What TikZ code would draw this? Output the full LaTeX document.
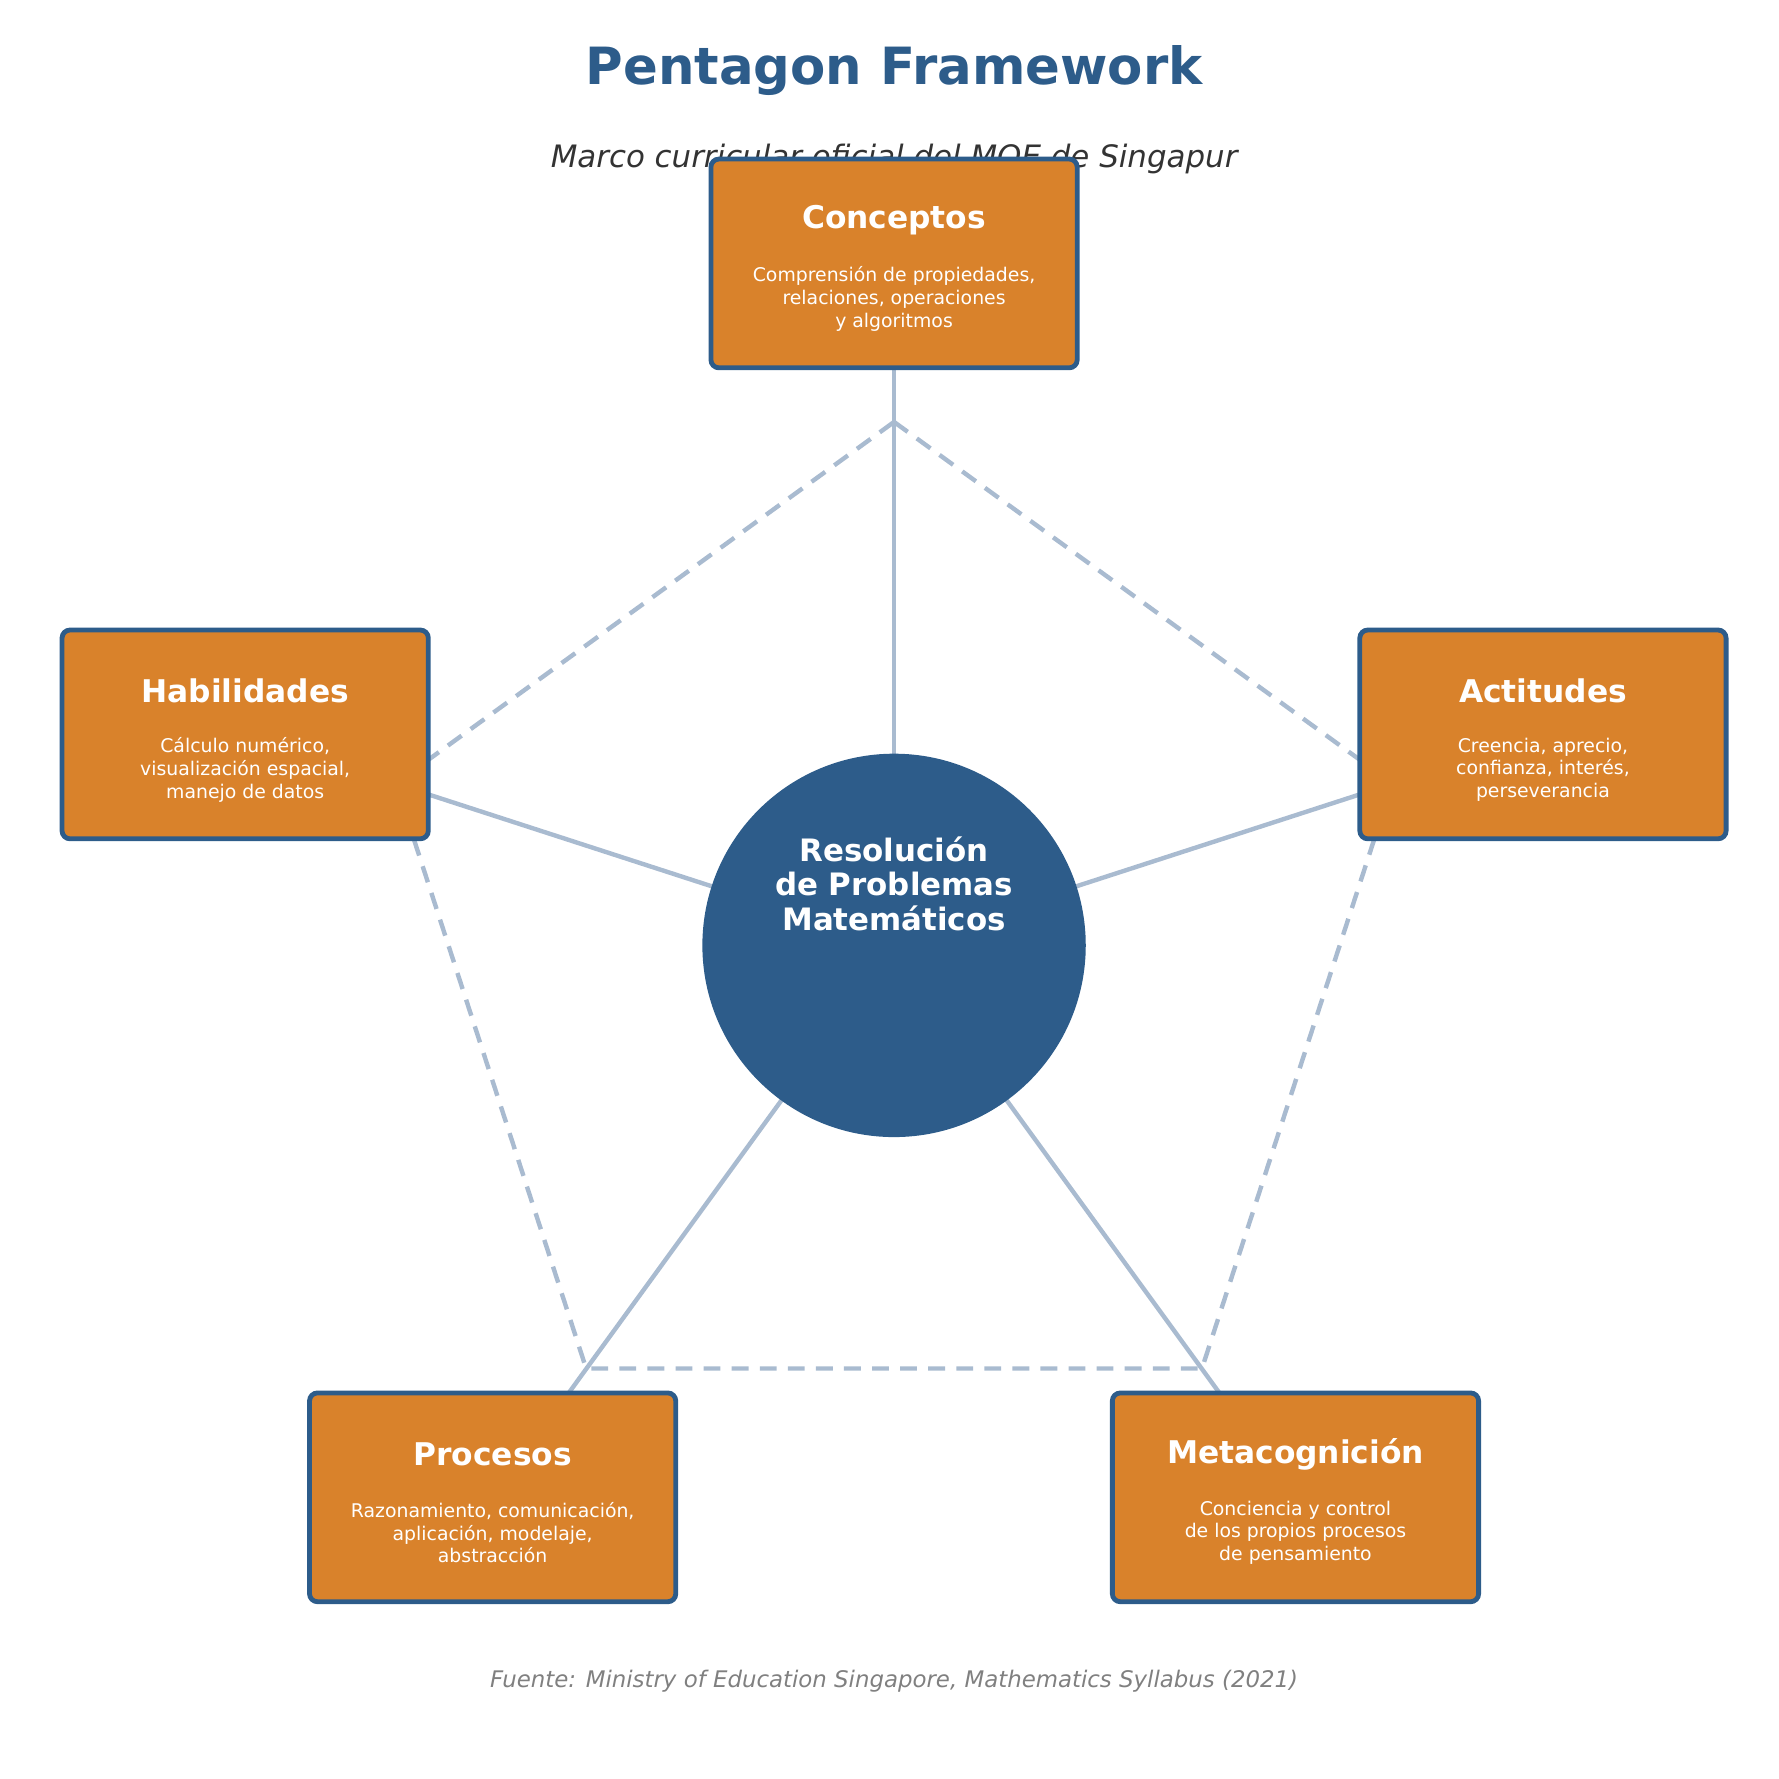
\documentclass[tikz,border=0pt]{standalone}
\usepackage{fontspec}
\setmainfont{DejaVu Sans}
\usetikzlibrary{backgrounds}
\definecolor{penblue}{HTML}{2D5C8A}
\definecolor{penorange}{HTML}{D9822B}
\definecolor{penline}{HTML}{A9BBD0}
\tikzset{
  pillar/.style={draw=penblue, line width=1.2pt, fill=penorange, rounded corners=2pt,
    minimum width=3.21cm, minimum height=1.83cm},
  ptitle/.style={text=white, font=\fontsize{7.8}{9}\selectfont\bfseries},
  pbody/.style={text=white, align=center, font=\fontsize{4.7}{5.7}\selectfont},
  spoke/.style={draw=penline, line width=1.1pt},
  rim/.style={draw=penline, line width=1.1pt, dash pattern=on 4.2pt off 2.8pt}
}
\begin{document}
\begin{tikzpicture}[x=0.01cm,y=-0.01cm]
\useasboundingbox (0,0) rectangle (1560,1560);
\node[text=penblue, font=\fontsize{12.8}{15}\selectfont\bfseries] (title) at (784,62) {Pentagon Framework};
\node[text=black!80, font=\fontsize{7.7}{9}\selectfont\itshape] (subtitle) at (784,139) {Marco curricular oficial del MOE de Singapur};

% pentagon vertices and spoke ends
\coordinate (p1) at (784,370);
\coordinate (p2) at (1221,687);
\coordinate (p3) at (1054,1200);
\coordinate (p4) at (514,1200);
\coordinate (p5) at (347,687);
\coordinate (hub) at (784,829);
\coordinate (s1) at (784,250);
\coordinate (s2) at (1330,652);
\coordinate (s3) at (1130,1305);
\coordinate (s4) at (438,1305);
\coordinate (s5) at (238,652);

\draw[rim] (p1) -- (p2) -- (p3) -- (p4) -- (p5) -- cycle;
\foreach \s in {s1,s2,s3,s4,s5} \draw[spoke] (hub) -- (\s);

\node[circle, fill=penblue, minimum size=3.36cm] (core) at (hub) {};
\node[text=white, align=center, font=\fontsize{7.7}{8.5}\selectfont\bfseries] (coretext) at (784,775)
  {Resolución\\de Problemas\\Matemáticos};

\node[pillar] (conceptos) at (784,231) {};
\node[pillar] (actitudes) at (1353,644) {};
\node[pillar] (metacog) at (1136,1313) {};
\node[pillar] (procesos) at (432,1313) {};
\node[pillar] (habilidades) at (215,644) {};

\node[ptitle] at (784,193) {Conceptos};
\node[pbody] at (784,262) {Comprensión de propiedades,\\relaciones, operaciones\\y algoritmos};
\node[ptitle] at (1353,606) {Actitudes};
\node[pbody] at (1353,675) {Creencia, aprecio,\\confianza, interés,\\perseverancia};
\node[ptitle] at (1136,1275) {Metacognición};
\node[pbody] at (1136,1344) {Conciencia y control\\de los propios procesos\\de pensamiento};
\node[ptitle] at (432,1275) {Procesos};
\node[pbody] at (432,1344) {Razonamiento, comunicación,\\aplicación, modelaje,\\abstracción};
\node[ptitle] at (215,606) {Habilidades};
\node[pbody] at (215,675) {Cálculo numérico,\\visualización espacial,\\manejo de datos};

\node[text=black!50, font=\fontsize{5.7}{7}\selectfont\itshape] (source) at (784,1474)
  {Fuente: Ministry of Education Singapore, Mathematics Syllabus (2021)};
\end{tikzpicture}
\end{document}
